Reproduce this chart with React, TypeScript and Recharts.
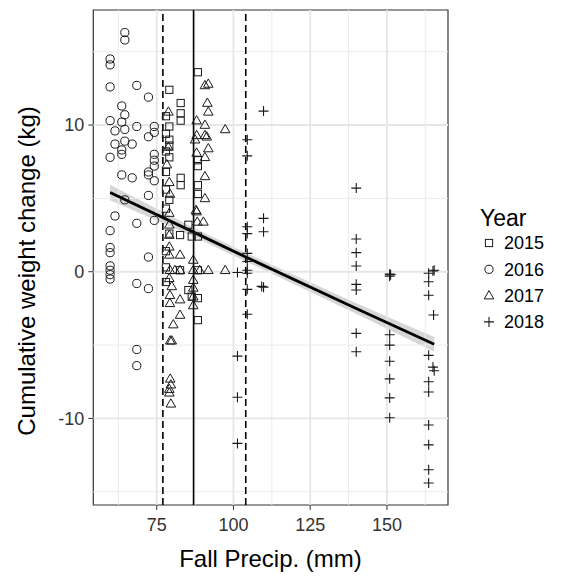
import {
  Area,
  ComposedChart,
  Line,
  ReferenceArea,
  ReferenceLine,
  Scatter,
  XAxis,
  YAxis,
} from "recharts";

const FONT = '"Liberation Sans", Arial, Helvetica, sans-serif';

// axis setup
const xDomain = [54.33, 169.9];
const yDomain = [-15.9, 17.84];
const xTicks = [75, 100, 125, 150];
const yTicks = [-10, 0, 10];
const xMinor = [62.5, 87.5, 112.5, 137.5, 162.5];
const yMinor = [-15, -5, 5, 15];
const dashedLines = [77, 104];
const solidLine = 87;

// points per year: [fall precip (mm), cumulative weight change (kg)]
const year2015: [number, number][] = [
  [88.4, 13.6], [79.1, 12.4], [82.8, 11.5], [82.8, 10.8], [82.8, 10.3], [79.1, 9.9],
  [79.1, 9.0], [79.1, 8.6], [79.1, 7.8], [88.4, 7.6], [88.4, 7.2], [82.8, 6.4],
  [82.8, 5.9], [88.4, 5.9], [88.4, 5.3], [79.1, 4.9], [79.1, 2.6], [82.6, 2.5],
  [85.3, 3.2], [88.4, 2.4], [86.4, 2.4], [82.6, 0.1], [88.4, 0.1], [85.3, -1.25],
  [88.4, -1.8], [88.4, -3.3], [86.4, -1.7], [78.0, 10.6], [78.0, 9.4], [78.0, 8.2],
  [78.0, 6.8], [78.0, 5.6], [78.0, 4.3], [78.0, 1.4], [78.0, 0.3], [78.0, -0.7],
];

const year2016: [number, number][] = [
  [64.6, 16.3], [64.6, 15.8], [59.8, 14.5], [59.8, 14.1], [59.8, 12.6], [68.5, 12.7],
  [72.3, 11.9], [63.6, 11.3], [64.6, 10.7], [59.8, 10.3], [63.6, 10.2], [68.5, 9.9],
  [74.2, 9.9], [61.4, 9.6], [64.6, 9.7], [74.2, 9.5], [72.3, 9.2], [61.4, 8.7],
  [64.6, 8.9], [67.0, 8.7], [63.6, 8.3], [63.6, 8.0], [59.8, 7.8], [74.2, 8.0],
  [74.2, 7.6], [74.2, 7.2], [72.3, 6.8], [72.3, 6.6], [63.6, 6.6], [67.0, 6.4],
  [74.2, 6.2], [72.3, 5.2], [64.6, 4.9], [61.4, 3.8], [68.5, 3.3], [74.2, 3.5],
  [59.8, 2.8], [59.8, 1.65], [59.8, 1.3], [72.3, 1.0], [59.8, 0.4], [59.8, 0.1],
  [59.8, -0.2], [59.8, -0.5], [68.5, -0.8], [72.3, -1.15], [68.5, -5.3], [68.5, -6.4],
];

const year2017: [number, number][] = [
  [90.7, 12.7], [91.8, 12.8], [91.5, 11.5], [91.8, 10.9], [97.3, 9.7], [78.8, 10.9],
  [88.0, 10.3], [90.7, 10.0], [88.0, 9.3], [90.7, 9.3], [87.5, 9.0], [91.3, 9.2],
  [91.8, 8.4], [88.0, 8.1], [90.7, 7.8], [78.3, 7.3], [78.8, 8.5], [90.7, 6.5],
  [90.7, 5.0], [79.3, 5.3], [79.1, 6.1], [87.8, 4.2], [79.1, 4.0], [88.0, 4.1],
  [90.2, 3.4], [88.2, 3.4], [79.1, 3.2], [79.1, 2.5], [79.1, 1.7], [79.1, 1.15],
  [82.6, 1.15], [86.9, 0.8], [79.3, 0.1], [80.9, 0.1], [82.6, 0.1], [86.9, 0.1],
  [89.0, 0.1], [91.8, 0.1], [97.3, 0.1], [79.1, -0.45], [79.9, -1.0], [86.9, -0.57],
  [86.9, -1.1], [79.3, -1.6], [82.6, -1.9], [86.9, -1.7], [79.3, -2.15], [86.9, -2.3],
  [82.6, -2.95], [80.4, -3.6], [79.9, -4.7], [79.4, -4.7], [79.4, -7.3], [79.6, -7.7],
  [79.1, -8.25], [79.1, -8.0], [79.6, -9.0],
];

const year2018: [number, number][] = [
  [109.8, 10.95], [104.5, 9.0], [104.5, 7.9], [109.8, 3.64], [109.8, 2.73], [104.5, 3.07],
  [104.5, 2.6], [104.5, 1.25], [104.5, 0.7], [104.5, 0.1], [104.5, -0.1], [101.3, -0.05],
  [104.5, -1.2], [109.2, -1.0], [109.8, -1.05], [104.5, -2.9], [101.3, -5.75], [101.3, -8.56],
  [101.3, -11.7],
  [140.0, 5.7], [140.0, 2.23], [140.0, 1.3], [140.0, 0.39], [140.0, -0.86], [140.0, -1.25],
  [140.0, -4.2], [140.0, -5.45],
  [150.9, -0.16], [150.9, -0.3], [151.2, -0.2], [150.9, -4.3], [150.9, -5.0], [150.9, -6.1],
  [150.9, -7.3], [150.9, -8.6], [150.9, -9.95],
  [165.0, 0.05], [165.4, 0.1], [163.6, -0.1], [163.6, -0.68], [163.6, -1.6], [165.2, -2.95],
  [163.6, -5.7], [165.0, -6.5], [165.4, -6.75], [163.6, -7.5], [163.6, -8.2], [163.6, -10.45],
  [163.6, -11.8], [163.6, -13.5], [163.6, -14.4],
];

// linear fit and its confidence band
const fitPrecip = [59.8, 87, 104, 140, 165.4];
const fitWeight = [5.4, 2.7, 1.0, -2.5, -4.95];
const bandLow = [4.87, 2.4, 0.7, -2.86, -5.45];
const bandHigh = [5.93, 3.0, 1.3, -2.14, -4.45];

const years = ["2015", "2016", "2017", "2018"];

const toRows = (pts: [number, number][]) => pts.map(([x, y]) => ({ x, y }));
const fitRows = fitPrecip.map((x, i) => ({
  x,
  fit: fitWeight[i],
  band: [bandLow[i], bandHigh[i]],
}));

const INK = "#1a1a1a";

function Marker({ kind, cx, cy }: { kind: string; cx: number; cy: number }) {
  if (kind === "2015") {
    return <rect x={cx - 3.6} y={cy - 3.6} width={7.2} height={7.2} fill="none" stroke={INK} strokeWidth={1} />;
  }
  if (kind === "2016") {
    return <circle cx={cx} cy={cy} r={4.1} fill="none" stroke={INK} strokeWidth={1} />;
  }
  if (kind === "2017") {
    return (
      <polygon
        points={`${cx},${cy - 5} ${cx - 4.8},${cy + 3.3} ${cx + 4.8},${cy + 3.3}`}
        fill="none"
        stroke={INK}
        strokeWidth={1}
      />
    );
  }
  return (
    <path d={`M${cx - 5},${cy}H${cx + 5}M${cx},${cy - 5}V${cy + 5}`} stroke={INK} strokeWidth={1.1} fill="none" />
  );
}

const shapeFor = (kind: string) => (props: any) => <Marker kind={kind} cx={props.cx} cy={props.cy} />;

export default function App() {
  return (
    <div style={{ position: "absolute", left: 0, top: 0, fontFamily: FONT }}>
      <ComposedChart
        width={569}
        height={576}
        data={fitRows}
        margin={{ top: 10, right: 121, left: 0, bottom: 0 }}
      >
        {xMinor.map((v) => (
          <ReferenceLine key={`xm${v}`} x={v} stroke="#ebebeb" strokeWidth={1} />
        ))}
        {yMinor.map((v) => (
          <ReferenceLine key={`ym${v}`} y={v} stroke="#ebebeb" strokeWidth={1} />
        ))}
        {xTicks.map((v) => (
          <ReferenceLine key={`xM${v}`} x={v} stroke="#e6e6e6" strokeWidth={1.8} />
        ))}
        {yTicks.map((v) => (
          <ReferenceLine key={`yM${v}`} y={v} stroke="#e6e6e6" strokeWidth={1.8} />
        ))}
        <XAxis
          dataKey="x"
          type="number"
          domain={xDomain}
          ticks={xTicks}
          allowDataOverflow
          height={71}
          axisLine={false}
          tickLine={{ stroke: "#333" }}
          tickSize={5}
          tickMargin={8}
          tick={{ fill: "#333", fontSize: 18, fontFamily: FONT }}
        />
        <YAxis
          dataKey="y"
          type="number"
          domain={yDomain}
          ticks={yTicks}
          allowDataOverflow
          width={93.3}
          axisLine={false}
          tickLine={{ stroke: "#333" }}
          tickSize={5}
          tickMargin={4}
          tick={{ fill: "#333", fontSize: 18, fontFamily: FONT }}
        />
        <Scatter data={toRows(year2015)} shape={shapeFor("2015")} isAnimationActive={false} />
        <Scatter data={toRows(year2016)} shape={shapeFor("2016")} isAnimationActive={false} />
        <Scatter data={toRows(year2017)} shape={shapeFor("2017")} isAnimationActive={false} />
        <Scatter data={toRows(year2018)} shape={shapeFor("2018")} isAnimationActive={false} />
        {dashedLines.map((v) => (
          <ReferenceLine key={`d${v}`} x={v} stroke="#000" strokeWidth={1.6} strokeDasharray="7 4" />
        ))}
        <ReferenceLine x={solidLine} stroke="#000" strokeWidth={1.6} />
        <Area
          dataKey="band"
          type="linear"
          fill="#999999"
          fillOpacity={0.4}
          stroke="none"
          isAnimationActive={false}
        />
        <Line dataKey="fit" type="linear" stroke="#000" strokeWidth={2.8} dot={false} isAnimationActive={false} />
        <ReferenceArea
          x1={xDomain[0]}
          x2={xDomain[1]}
          y1={yDomain[0]}
          y2={yDomain[1]}
          fill="none"
          stroke="#333"
          strokeWidth={1.2}
          ifOverflow="visible"
        />
        <text x={270.5} y={567} textAnchor="middle" fontSize={24} fontFamily={FONT} fill="#000">
          Fall Precip. (mm)
        </text>
        <text
          x={35}
          y={271}
          textAnchor="middle"
          fontSize={24}
          fontFamily={FONT}
          fill="#000"
          transform="rotate(-90, 35, 271)"
        >
          Cumulative weight change (kg)
        </text>
        <text x={480} y={226} fontSize={23} fontFamily={FONT} fill="#000">
          Year
        </text>
        {years.map((yr, i) => {
          const cy = 243 + i * 26.3;
          return (
            <g key={yr}>
              <Marker kind={yr} cx={489} cy={cy} />
              <text x={504} y={cy} dy="0.35em" fontSize={18} fontFamily={FONT} fill="#000">
                {yr}
              </text>
            </g>
          );
        })}
      </ComposedChart>
    </div>
  );
}
